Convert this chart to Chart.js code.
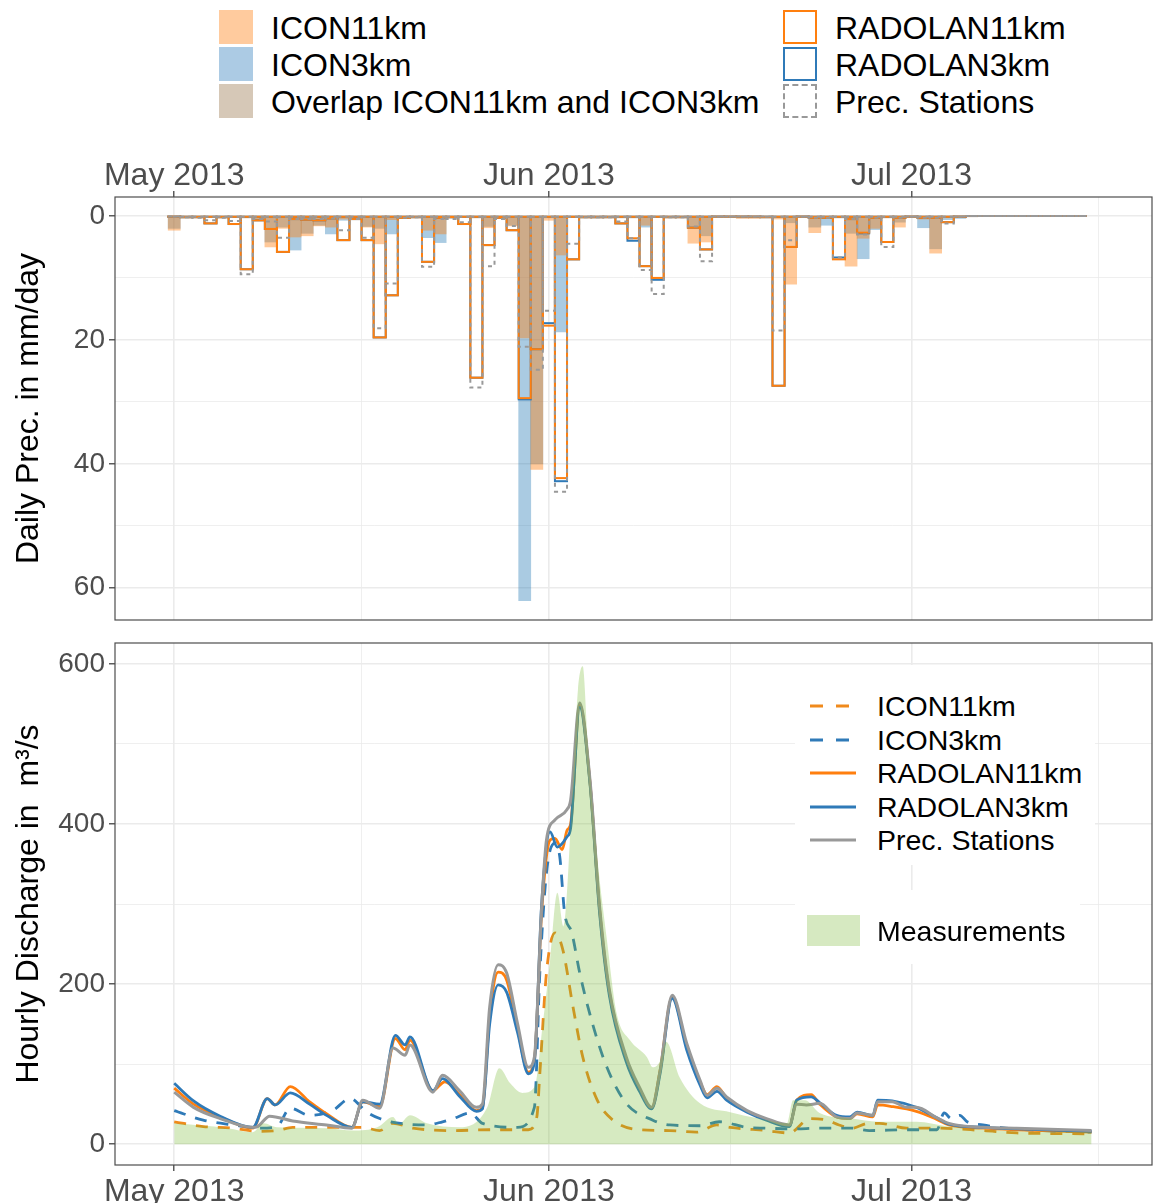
<!DOCTYPE html>
<html>
<head>
<meta charset="utf-8">
<title>Precipitation and discharge, May - July 2013</title>
<script src="https://cdn.jsdelivr.net/npm/chart.js@4.4.1/dist/chart.umd.min.js"></script>
<style>
  body {
    margin: 0;
    width: 1153px;
    height: 1203px;
    position: relative;
    overflow: hidden;
    background: #fff;
    font-family: "Liberation Sans", Arial, sans-serif;
  }
  #prec-wrap { position: absolute; left: 0; top: 140px; width: 1153px; height: 485px; }
  #flow-wrap { position: absolute; left: 0; top: 625px; width: 1153px; height: 578px; }
  .lg { position: absolute; white-space: nowrap; color: #000; }
  .lg-top { font-size: 32px; line-height: 37px; }
  .lg-bot { font-size: 28.5px; line-height: 34px; }
  .sw { position: absolute; box-sizing: border-box; width: 34px; height: 34px; }
  .box { position: absolute; background: #fff; }
</style>
</head>
<body>
<div id="prec-wrap"><canvas id="prec-chart"></canvas></div>
<div id="flow-wrap"><canvas id="flow-chart"></canvas></div>

<!-- top legend -->
<div class="sw" style="left:219px; top:10px; background:rgb(255,203,158);"></div>
<div class="lg lg-top" style="left:271px; top:10px;">ICON11km</div>
<div class="sw" style="left:219px; top:47px; background:rgb(172,203,228);"></div>
<div class="lg lg-top" style="left:271px; top:47px;">ICON3km</div>
<div class="sw" style="left:219px; top:84px; background:rgb(214,200,183);"></div>
<div class="lg lg-top" style="left:271px; top:84px;">Overlap ICON11km and ICON3km</div>
<div class="sw" style="left:783px; top:10px; border:2px solid #ff7f0e;"></div>
<div class="lg lg-top" style="left:835px; top:10px;">RADOLAN11km</div>
<div class="sw" style="left:783px; top:47px; border:2px solid #2f7ab8;"></div>
<div class="lg lg-top" style="left:835px; top:47px;">RADOLAN3km</div>
<div class="sw" style="left:783px; top:84px; border:2px dashed #999;"></div>
<div class="lg lg-top" style="left:835px; top:84px;">Prec. Stations</div>

<!-- bottom legend -->
<div class="box" style="left:795px; top:665px; width:300px; height:200px;"></div>
<div class="box" style="left:795px; top:890px; width:285px; height:74px;"></div>
<svg style="position:absolute; left:0; top:0;" width="1153" height="1203">
  <line x1="810" y1="706" x2="856" y2="706" stroke="#f08a1c" stroke-width="3" stroke-dasharray="13 13"/>
  <line x1="810" y1="740" x2="856" y2="740" stroke="#2f7ab8" stroke-width="3" stroke-dasharray="13 13"/>
  <line x1="810" y1="773" x2="856" y2="773" stroke="#ff7f0e" stroke-width="3"/>
  <line x1="810" y1="807" x2="856" y2="807" stroke="#2f7ab8" stroke-width="3"/>
  <line x1="810" y1="840" x2="856" y2="840" stroke="#999999" stroke-width="3"/>
  <rect x="807" y="915" width="53" height="31" fill="rgb(214,233,193)"/>
</svg>
<div class="lg lg-bot" style="left:877px; top:689px;">ICON11km</div>
<div class="lg lg-bot" style="left:877px; top:723px;">ICON3km</div>
<div class="lg lg-bot" style="left:877px; top:756px;">RADOLAN11km</div>
<div class="lg lg-bot" style="left:877px; top:790px;">RADOLAN3km</div>
<div class="lg lg-bot" style="left:877px; top:823px;">Prec. Stations</div>
<div class="lg lg-bot" style="left:877px; top:914px;">Measurements</div>

<script>
// x values are days since 1 May 2013
const days = Array.from({ length: 76 }, (_, i) => i);

// daily precipitation in mm/day
const icon11Prec = [2.3, 0.3, 0.2, 0.2, 0.3, 0.2, 0.3, 0.8, 5.0, 2.0,
  3.4, 3.2, 1.6, 1.8, 0.5, 0.4, 1.8, 4.5, 0.6, 0.3,
  0.1, 2.3, 2.9, 0.3, 0.2, 0.3, 1.9, 0.2, 1.6, 19.7,
  40.9, 0.7, 6.3, 0.2, 0.3, 0.3, 0.2, 0.3, 0.3, 1.5,
  0.2, 0.2, 0.2, 4.4, 4.2, 0.1, 0.1, 0.4, 0.4, 0.2,
  0.5, 11.0, 0.1, 2.7, 0.4, 0.3, 8.1, 3.6, 2.0, 0.3,
  1.8, 0.1, 0.5, 6.0, 0.3, 0.1, 0.1, 0, 0, 0,
  0, 0, 0, 0, 0, 0];
const icon3Prec = [2.0, 0.3, 0.2, 0.2, 0.2, 0.1, 0.3, 0.6, 4.2, 1.8,
  5.5, 2.8, 1.5, 2.9, 0.7, 0.4, 1.7, 2.0, 2.9, 0.2,
  0.1, 3.5, 4.3, 0.3, 0.2, 0.3, 1.7, 0.2, 1.5, 62.1,
  40.0, 0.3, 18.7, 0.2, 0.2, 0.3, 0.2, 0.3, 0.3, 1.8,
  0.2, 0.2, 0.1, 1.9, 3.2, 0.1, 0.1, 0.3, 0.3, 0.2,
  0.3, 1.1, 0.1, 1.8, 1.5, 0.3, 2.8, 6.9, 2.2, 0.3,
  1.0, 0.1, 1.9, 5.3, 0.6, 0.4, 0.1, 0, 0, 0,
  0, 0, 0, 0, 0, 0];
const radolan11Prec = [0.1, 0.2, 0.2, 1.2, 0.2, 1.3, 8.6, 0.7, 2.1, 5.8,
  0.5, 0.6, 0.7, 0.4, 3.9, 0.5, 3.9, 19.6, 12.8, 0.3,
  0.2, 7.4, 0.3, 0.2, 1.3, 26.1, 4.7, 0.3, 2.3, 29.4,
  21.5, 17.7, 42.3, 7.0, 0.2, 0.2, 0.2, 1.2, 3.6, 8.1,
  10.0, 0.2, 0.2, 1.9, 5.4, 0.1, 0.1, 0.1, 0.1, 0.2,
  27.4, 5.0, 0.1, 0.3, 0.3, 7.0, 0.5, 2.7, 0.3, 4.2,
  0.3, 0.1, 0.3, 0.3, 1.0, 0.1, 0, 0, 0, 0,
  0, 0, 0, 0, 0, 0];
const radolan3Prec = [0.1, 0.2, 0.2, 1.2, 0.2, 1.3, 8.6, 0.7, 2.1, 5.8,
  0.5, 0.6, 0.7, 0.4, 3.9, 0.5, 3.9, 19.6, 12.8, 0.3,
  0.2, 7.4, 0.3, 0.2, 1.3, 26.1, 4.7, 0.3, 2.3, 29.6,
  21.5, 17.3, 42.8, 7.0, 0.2, 0.2, 0.2, 1.2, 4.0, 8.1,
  10.3, 0.2, 0.2, 1.9, 5.4, 0.1, 0.1, 0.1, 0.1, 0.2,
  27.4, 5.0, 0.1, 0.3, 0.3, 6.7, 0.5, 2.8, 0.3, 4.2,
  0.3, 0.1, 0.3, 0.3, 1.0, 0.1, 0, 0, 0, 0,
  0, 0, 0, 0, 0, 0];
const stationPrec = [0.1, 0.2, 0.3, 0.7, 0.3, 0.8, 9.4, 0.5, 0.9, 3.5,
  0.5, 0.5, 0.5, 0.4, 2.3, 0.5, 3.5, 18.1, 10.9, 0.3,
  0.2, 8.2, 0.5, 0.5, 1.0, 27.7, 8.1, 0.5, 1.6, 21.1,
  24.8, 15.3, 44.5, 4.5, 0.2, 0.2, 0.2, 0.9, 3.6, 8.7,
  12.6, 0.2, 0.2, 1.7, 7.3, 0.1, 0.1, 0.1, 0.1, 0.1,
  18.5, 3.9, 0.1, 0.3, 0.3, 6.7, 0.5, 3.0, 0.3, 5.0,
  0.3, 0.1, 0.3, 0.3, 1.2, 0.1, 0, 0, 0, 0,
  0, 0, 0, 0, 0, 0];

// hourly discharge in m3/s, read as [day, value]
const measuredQ = [[0, 26], [4.4, 20], [6.5, 15], [7.4, 26], [8.5, 21], [12.6, 20], [14.8, 17],
  [16.8, 21], [18.1, 34], [18.6, 25], [19.5, 36], [20.9, 26], [23.6, 21], [25.9, 46], [26.9, 95],
  [27.8, 76], [28.8, 64], [29.8, 71], [30.5, 151], [31.1, 230], [31.7, 314], [32.2, 272],
  [33.0, 455], [33.4, 567], [33.8, 597], [34.2, 505], [35.0, 359], [35.8, 255], [36.6, 164],
  [37.7, 130], [39.1, 109], [39.6, 96], [40.2, 104], [40.7, 128], [41.8, 84], [43.5, 51],
  [46.0, 40], [48.4, 32], [50.7, 26], [51.2, 55], [52.2, 55], [53.4, 39], [56.1, 32],
  [58.2, 28], [61.4, 28], [64.1, 22], [69.7, 16], [75.9, 15]];
const stationQ = [[0, 65], [1.6, 46], [3.8, 32], [6.5, 21], [6.9, 22], [7.9, 35], [9.8, 29],
  [12.6, 24], [14.7, 20], [15.6, 55], [17.0, 45], [18.1, 120], [19.1, 111], [19.5, 124],
  [21.4, 65], [22.2, 86], [23.6, 67], [25.0, 46], [25.5, 50], [26.1, 171], [26.8, 224],
  [27.5, 214], [28.4, 151], [29.3, 96], [29.8, 109], [30.4, 296], [30.8, 380], [31.5, 405],
  [32.5, 418], [32.8, 430], [33.55, 551], [34.4, 455], [35.2, 296], [36.0, 193], [37.4, 109],
  [38.5, 71], [39.5, 46], [40.2, 92], [41.2, 186], [42.4, 126], [43.5, 80], [44.1, 61],
  [44.9, 70], [45.7, 59], [47.4, 42], [49.0, 32], [50.9, 24], [51.5, 50], [52.3, 49],
  [53.4, 51], [54.8, 34], [55.9, 32], [56.5, 39], [57.8, 36], [58.2, 53], [59.4, 53],
  [60.6, 46], [61.4, 46], [63.1, 33], [64.1, 26], [66.9, 21], [69.7, 20], [75.9, 17]];
const radolan11Q = [[0, 70], [1.6, 50], [3.8, 34], [6.5, 20], [7.7, 57], [8.35, 49], [9.6, 72],
  [11.2, 53], [12.6, 38], [14.7, 21], [15.6, 53], [17.0, 47], [18.3, 132], [19.1, 118],
  [19.5, 130], [21.4, 67], [22.4, 78], [23.6, 62], [25.0, 42], [25.5, 45], [26.1, 160],
  [26.8, 215], [27.5, 205], [28.4, 145], [29.3, 90], [29.8, 105], [30.4, 290], [31.1, 380],
  [31.5, 382], [32.1, 368], [32.5, 392], [32.8, 400], [33.55, 549], [34.4, 452], [35.2, 292],
  [36.0, 190], [37.4, 106], [38.5, 69], [39.5, 45], [40.2, 92], [41.2, 184], [42.4, 122],
  [43.5, 78], [44.1, 62], [44.9, 72], [45.7, 58], [47.4, 41], [49.0, 31], [50.9, 23],
  [51.5, 55], [52.7, 62], [53.4, 50], [54.8, 34], [55.9, 32], [56.5, 38], [57.8, 34],
  [58.2, 49], [59.4, 47], [61.4, 41], [63.1, 31], [64.1, 24], [66.9, 20], [69.7, 18], [75.9, 15]];
const radolan3Q = [[0, 76], [1.6, 54], [3.8, 35], [6.5, 21], [7.7, 57], [8.35, 49], [9.6, 64],
  [11.2, 50], [12.6, 36], [14.7, 21], [15.6, 53], [17.0, 50], [18.3, 136], [19.1, 124],
  [19.5, 134], [21.4, 67], [22.2, 82], [23.6, 60], [25.0, 41], [25.5, 44], [26.1, 150],
  [26.8, 199], [27.5, 190], [28.4, 140], [29.3, 88], [29.8, 103], [30.4, 300], [31.1, 390],
  [31.7, 371], [32.5, 384], [32.8, 395], [33.55, 546], [34.4, 450], [35.2, 288], [36.0, 186],
  [37.4, 103], [38.5, 66], [39.5, 44], [40.2, 88], [41.2, 182], [42.4, 118], [43.5, 74],
  [44.1, 58], [44.9, 66], [45.7, 55], [47.4, 40], [49.0, 30], [50.9, 22], [51.5, 55],
  [52.7, 59], [53.4, 52], [54.8, 36], [55.9, 34], [56.5, 40], [57.8, 36], [58.2, 55],
  [59.4, 54], [61.4, 46], [63.1, 33], [64.1, 25], [66.9, 21], [69.7, 19], [75.9, 16]];
const icon11Q = [[0, 28], [2.4, 22], [4.9, 20], [6.9, 16], [8.5, 17], [9.8, 21], [14.3, 21],
  [15.6, 21], [17.0, 17], [18.1, 26], [19.75, 20], [23.1, 17], [26.0, 18], [29.3, 18],
  [30.0, 34], [30.25, 88], [30.8, 214], [31.5, 264], [32.15, 243], [33.0, 171], [33.8, 109],
  [35.0, 55], [36.3, 30], [38.5, 18], [41.0, 17], [43.2, 15], [44.9, 24], [46.0, 21],
  [49.0, 17], [50.9, 14], [52.6, 32], [54.0, 30], [55.0, 24], [56.1, 20], [57.4, 26],
  [58.35, 26], [60.6, 20], [63.3, 20], [66.9, 17], [69.7, 14], [75.9, 13]];
const icon3Q = [[0, 42], [2.4, 30], [4.9, 24], [7.1, 20], [8.5, 22], [9.6, 45], [11.2, 36],
  [13.1, 42], [14.55, 57], [15.95, 40], [17.0, 32], [17.85, 28], [20.9, 24], [22.2, 28],
  [23.1, 32], [24.5, 39], [25.5, 26], [28.4, 21], [29.8, 46], [30.25, 214], [30.8, 339],
  [31.5, 376], [31.9, 359], [32.3, 289], [32.9, 264], [33.55, 214], [34.6, 151], [35.8, 96],
  [37.4, 51], [39.6, 30], [41.0, 24], [43.5, 23], [45.1, 28], [47.4, 21], [49.0, 20],
  [51.2, 19], [53.4, 20], [56.1, 20], [57.5, 17], [60.6, 18], [63.1, 18], [63.7, 39],
  [64.3, 32], [65.0, 36], [65.6, 28], [66.9, 24], [69.7, 19], [75.9, 15]];

// axis ticks
const monthTicks = [0, 31, 61];
const monthLabels = ['May 2013', 'Jun 2013', 'Jul 2013'];
const midMonthTicks = [15.5, 46, 76.5];
const precTicks = [0, 20, 40, 60];
const precMinorTicks = [10, 30, 50];
const flowTicks = [0, 200, 400, 600];
const flowMinorTicks = [100, 300, 500];

Chart.defaults.font.family = '"Liberation Sans", Arial, sans-serif';

function isMajor(ctx, majors) {
  return ctx.tick ? majors.includes(ctx.tick.value) : true;
}

function gridFor(majors) {
  return {
    offset: false,
    color: '#ebebeb',
    lineWidth: ctx => isMajor(ctx, majors) ? 1.6 : 0.8,
    tickLength: 6,
    tickWidth: 1.2,
    tickColor: ctx => isMajor(ctx, majors) ? '#333333' : 'rgba(0,0,0,0)'
  };
}

// labels of the edge ticks must not shrink the panel
function noEdgePadding(s) {
  s.paddingTop = 0;
  s.paddingBottom = 0;
  s.paddingLeft = 0;
  s.paddingRight = 0;
}

function dayAxis(position, boxHeight, labelPad, lineHeight) {
  return {
    type: 'linear',
    position: position,
    min: -4.9,
    max: 80.9,
    offset: false,
    afterBuildTicks: s => {
      s.ticks = monthTicks.concat(midMonthTicks).sort((a, b) => a - b).map(v => ({ value: v }));
    },
    afterFit: s => { s.height = boxHeight; noEdgePadding(s); },
    ticks: {
      autoSkip: false,
      maxRotation: 0,
      minRotation: 0,
      color: '#4d4d4d',
      font: { size: 32, lineHeight: lineHeight },
      padding: labelPad,
      callback: v => {
        const i = monthTicks.indexOf(v);
        return i >= 0 ? monthLabels[i] : '';
      }
    },
    grid: gridFor(monthTicks),
    border: { display: false }
  };
}

function valueAxis(opts) {
  return {
    reverse: opts.reverse,
    min: opts.min,
    max: opts.max,
    afterBuildTicks: s => {
      s.ticks = opts.major.concat(opts.minor).sort((a, b) => a - b).map(v => ({ value: v }));
    },
    afterFit: s => { s.width = 115; noEdgePadding(s); },
    ticks: {
      color: '#4d4d4d',
      font: { size: 28 },
      padding: 4,
      callback: v => opts.major.includes(v) ? String(v) : ''
    },
    grid: gridFor(opts.major),
    border: { display: false },
    title: {
      display: true,
      text: opts.title,
      color: '#000',
      font: { size: 32 },
      padding: { top: 10, bottom: 0 }
    }
  };
}

// grey frame round the panel
const panelBorder = {
  id: 'panelBorder',
  afterDraw(chart) {
    const { ctx, chartArea: a } = chart;
    ctx.save();
    ctx.strokeStyle = '#4d4d4d';
    ctx.lineWidth = 1.2;
    ctx.strokeRect(a.left, a.top, a.right - a.left, a.bottom - a.top);
    ctx.restore();
  }
};

// stroke bar outlines (dashed for stations), like ggplot colour= on geom_col
const barOutlines = {
  id: 'barOutlines',
  afterDatasetsDraw(chart) {
    const { ctx, chartArea: a } = chart;
    chart.data.datasets.forEach((ds, i) => {
      if (!ds.outlineColor) return;
      const meta = chart.getDatasetMeta(i);
      ctx.save();
      ctx.beginPath();
      ctx.rect(a.left, a.top, a.right - a.left, a.bottom - a.top);
      ctx.clip();
      ctx.strokeStyle = ds.outlineColor;
      ctx.lineWidth = 2;
      ctx.setLineDash(ds.outlineDash || []);
      meta.data.forEach(bar => {
        const { x, y, base, width } = bar.getProps(['x', 'y', 'base', 'width'], true);
        ctx.strokeRect(x - width / 2, Math.min(y, base), width, Math.abs(base - y));
      });
      ctx.restore();
    });
  }
};

function toPoints(values) {
  return values.map((v, i) => ({ x: days[i], y: v }));
}

function barSet(label, values, extra) {
  return Object.assign({
    label: label,
    data: toPoints(values),
    grouped: false,
    barPercentage: 1,
    categoryPercentage: 1,
    borderWidth: 0,
    backgroundColor: 'rgba(0,0,0,0)'
  }, extra);
}

new Chart(document.getElementById('prec-chart'), {
  type: 'bar',
  data: {
    datasets: [
      barSet('ICON11km', icon11Prec, { backgroundColor: 'rgba(255,127,14,0.42)' }),
      barSet('ICON3km', icon3Prec, { backgroundColor: 'rgba(31,119,180,0.38)' }),
      barSet('RADOLAN3km', radolan3Prec, { outlineColor: '#2f7ab8' }),
      barSet('RADOLAN11km', radolan11Prec, { outlineColor: '#ff7f0e' }),
      barSet('Prec. Stations', stationPrec, { outlineColor: '#999999', outlineDash: [4, 4] })
    ]
  },
  options: {
    responsive: true,
    maintainAspectRatio: false,
    animation: false,
    layout: { padding: { top: 0, right: 1, bottom: 5, left: 0 } },
    plugins: { legend: { display: false }, tooltip: { enabled: false } },
    scales: {
      x: dayAxis('top', 57, -1, 1),
      y: valueAxis({ reverse: true, min: -3.06, max: 65.2, major: precTicks, minor: precMinorTicks,
        title: 'Daily Prec. in mm/day' })
    }
  },
  plugins: [barOutlines, panelBorder]
});

function lineSet(label, pairs, color, width, dash) {
  return {
    label: label,
    data: pairs.map(p => ({ x: p[0], y: p[1] })),
    borderColor: color,
    borderWidth: width,
    borderDash: dash || [],
    pointRadius: 0,
    fill: false,
    cubicInterpolationMode: 'monotone'
  };
}

// first dataset is drawn last, so the translucent measurements sit on top
new Chart(document.getElementById('flow-chart'), {
  type: 'line',
  data: {
    datasets: [
      {
        label: 'Measurements',
        data: measuredQ.map(p => ({ x: p[0], y: p[1] })),
        borderWidth: 0,
        borderColor: 'rgba(0,0,0,0)',
        backgroundColor: 'rgba(120,185,50,0.3)',
        pointRadius: 0,
        fill: 'origin',
        cubicInterpolationMode: 'monotone'
      },
      lineSet('Prec. Stations', stationQ, '#999999', 3),
      lineSet('RADOLAN3km', radolan3Q, '#2f7ab8', 2.8),
      lineSet('RADOLAN11km', radolan11Q, '#ff7f0e', 2.8),
      lineSet('ICON3km', icon3Q, '#2f7ab8', 2.8, [12, 10]),
      lineSet('ICON11km', icon11Q, '#f08a1c', 2.8, [12, 10])
    ]
  },
  options: {
    responsive: true,
    maintainAspectRatio: false,
    animation: false,
    layout: { padding: { top: 18, right: 1, bottom: 0, left: 0 } },
    plugins: { legend: { display: false }, tooltip: { enabled: false } },
    scales: {
      x: dayAxis('bottom', 38, 2, 1.2),
      y: valueAxis({ reverse: false, min: -26, max: 626, major: flowTicks, minor: flowMinorTicks,
        title: 'Hourly Discharge in  m\u00b3/s' })
    }
  },
  plugins: [panelBorder]
});
</script>
</body>
</html>
